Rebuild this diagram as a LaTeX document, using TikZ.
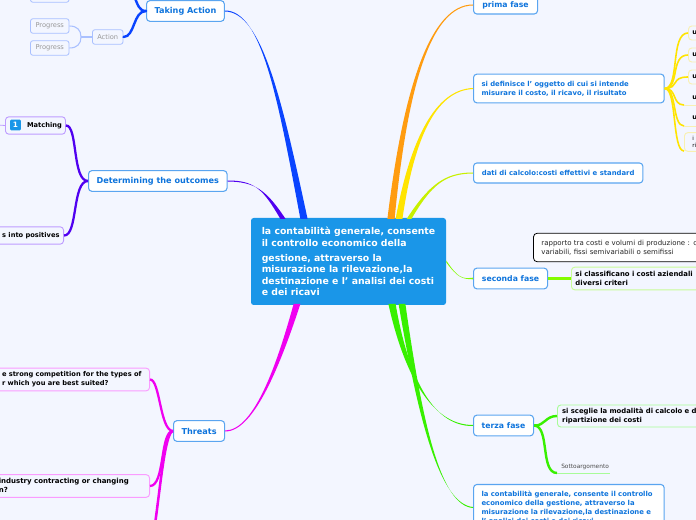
\documentclass[tikz,border=0pt]{standalone}
\usepackage{fontspec}
\setmainfont{DejaVu Sans}
\usetikzlibrary{calc}
\definecolor{pagebg}{HTML}{F3F6FF}
\definecolor{rootblue}{HTML}{1A96E8}
\definecolor{mainblue}{HTML}{0E74DC}
\definecolor{edgeblue}{HTML}{5AA5F0}
\definecolor{actionblue}{HTML}{0A44FF}
\definecolor{actionpale}{HTML}{A9C0FF}
\definecolor{outpurple}{HTML}{5000F0}
\definecolor{outpale}{HTML}{BE9CFF}
\definecolor{threatpink}{HTML}{F000F0}
\definecolor{threatpale}{HTML}{FA9CFF}
\definecolor{primaorange}{HTML}{FF9C10}
\definecolor{defyellow}{HTML}{FFE400}
\definecolor{defpale}{HTML}{F8F0B0}
\definecolor{datilime}{HTML}{C8F000}
\definecolor{secondalime}{HTML}{84FC00}
\definecolor{secondapale}{HTML}{C8FC98}
\definecolor{terzagreen}{HTML}{38F000}
\definecolor{terzapale}{HTML}{A8FC98}
\tikzset{
  root/.style={rectangle, rounded corners=2pt, fill=rootblue, text=white, font=\bfseries\fontsize{7}{8.6}\selectfont, minimum width=146.25pt, minimum height=65.25pt, align=left, inner xsep=7.5pt, inner ysep=0pt},
  topic/.style={rectangle, rounded corners=2.5pt, draw=edgeblue, line width=.8pt, fill=white, text=mainblue, font=\bfseries\fontsize{6.1}{7.6}\selectfont, align=left, anchor=west, inner xsep=6pt, inner ysep=0pt},
  fase/.style={topic, font=\bfseries\fontsize{5.8}{7.6}\selectfont},
  longtopic/.style={topic, font=\bfseries\fontsize{5.15}{6.6}\selectfont},
  sub/.style={rectangle, rounded corners=2.5pt, line width=.7pt, fill=pagebg, text=black, font=\bfseries\fontsize{5}{6.75}\selectfont, align=left, anchor=west, inner xsep=3pt, inner ysep=0pt},
  ghost/.style={rectangle, rounded corners=2pt, line width=.6pt, draw=actionpale, fill=pagebg, text=black!40, font=\fontsize{5}{6}\selectfont, anchor=west, inner sep=0pt},
}
% tapered branch: colour, thin width, thick width, start, first control, second control, end
\newcommand{\branch}[7]{
  \fill[#1] ($(#4)+(0,-#2)$) .. controls ($(#5)+(0,-#2*1.4)$) and ($(#6)+(-#3*.55,0)$) .. ($(#7)+(-#3,0)$) -- ($(#7)+(#3,0)$) .. controls ($(#6)+(#3*.55,0)$) and ($(#5)+(0,#2*1.4)$) .. ($(#4)+(0,#2)$) -- cycle;
}
\newcommand{\sidebranch}[7]{
  \fill[#1] ($(#4)+(0,-#2)$) .. controls (#5) and (#6) .. ($(#7)+(0,-#3)$) -- ($(#7)+(0,#3)$) .. controls (#6) and (#5) .. ($(#4)+(0,#2)$) -- cycle;
}
\begin{document}
\begin{tikzpicture}[x=.75pt, y=-.75pt]
\useasboundingbox (0,0) rectangle (696,520);
\clip (0,0) rectangle (696,520);
\fill[pagebg] (0,0) rectangle (696,520);

% Main topics
\node (root) [root] at (348.5,261.5) {la contabilità generale, consente\\il controllo economico della\\[2.6pt]gestione, attraverso la\\misurazione la rilevazione,la\\destinazione e l' analisi dei costi\\e dei ricavi};
\node (taking) [topic, minimum width=58pt, minimum height=15.5pt] at (146,11) {Taking Action};
\node (outcomes) [topic, minimum width=102pt, minimum height=15.5pt] at (88,181) {Determining the outcomes};
\node (threats) [topic, minimum width=37.5pt, minimum height=15.5pt] at (173,431) {Threats};
\node (prima) [fase, minimum width=48pt, minimum height=13.5pt] at (473,5) {prima fase};
\node (oggetto) [longtopic, text width=131pt, minimum height=21.5pt] at (473,88.5) {si definisce l' oggetto di cui si intende\\misurare il costo, il ricavo, il risultato};
\node (dati) [longtopic, minimum width=127pt, minimum height=15pt] at (473,173) {dati di calcolo:costi effettivi e standard};
\node (seconda) [fase, minimum width=55.5pt, minimum height=15.5pt] at (473,278.5) {seconda fase};
\node (terza) [fase, minimum width=45pt, minimum height=15.5pt] at (473,425.5) {terza fase};
\node (copia) [longtopic, text width=131pt, minimum height=34.5pt] at (473,507.5) {la contabilità generale, consente il controllo\\economico della gestione, attraverso la\\misurazione la rilevazione,la destinazione e\\l' analisi dei costi e dei ricavi};

% Left side
\node (action) [ghost, minimum width=23pt, minimum height=11pt, align=center] at (92,37) {Action};
\node (progressa) [ghost, minimum width=29pt, minimum height=11pt] at (30,-5) {};
\node (progressb) [ghost, minimum width=29pt, minimum height=11pt, align=center] at (30,26) {Progress};
\node (progressc) [ghost, minimum width=29pt, minimum height=11pt, align=center] at (30,48) {Progress};
\node (matching) [sub, draw=outpale, minimum width=45pt, minimum height=13pt, inner xsep=0pt] at (5,125.5) {\hspace*{13.5pt}Matching};
\node (badge) [rectangle, rounded corners=.8pt, fill=rootblue, text=white, font=\bfseries\fontsize{5.5}{6}\selectfont, minimum size=8pt, inner sep=0pt] at (15.5,125) {1};
\node (positives) [sub, draw=outpale, minimum height=13pt, anchor=east, inner xsep=3pt] at (64,235.5) {\hspace*{12pt}s into positives};
\node (competition) [sub, draw=threatpale, anchor=east, minimum height=17pt, inner xsep=0pt] at (150,379.5) {\raisebox{-1pt}{\begin{tabular}{@{\hspace{10pt}}l@{\hspace{6pt}}}e strong competition for the types of\\r which you are best suited?\end{tabular}}};
\node (contracting) [sub, draw=threatpale, anchor=east, minimum height=17pt, inner xsep=0pt, font=\bfseries\fontsize{5.25}{6.75}\selectfont] at (150,486) {\raisebox{-.5pt}{\begin{tabular}{@{\hspace{10pt}}l@{\hspace{15.5pt}}}industry contracting or changing\\n?\end{tabular}}};
\coordinate (threatsoff) at (155,524);
\coordinate (actionoff) at (134,-4);
\coordinate (matchingoff) at (-2,125);

% Right side
\node (ua) [sub, draw=defpale, text width=30pt, minimum height=10.5pt] at (688,33) {u};
\node (ub) [sub, draw=defpale, text width=30pt, minimum height=10.5pt] at (688,55) {u};
\node (uc) [sub, draw=defpale, text width=30pt, minimum height=10.5pt] at (688,77) {u};
\node (ud) [font=\bfseries\fontsize{5}{7}\selectfont, anchor=west, inner sep=0pt] at (692,98) {u};
\node (ue) [font=\bfseries\fontsize{5}{7}\selectfont, anchor=west, inner sep=0pt] at (692,118) {u};
\node (uf) [sub, draw=defpale, text width=30pt, minimum height=14pt, font=\fontsize{4.2}{5.4}\selectfont, inner xsep=6pt] at (684,142) {i c\\ri};
\coordinate (udline) at (684,105);
\coordinate (ueline) at (684,126);
\coordinate (ufline) at (684,151);
\node (rapporto) [rectangle, rounded corners=3pt, draw=black, line width=.6pt, fill=white, font=\fontsize{5.25}{6.5}\selectfont, anchor=west, align=left, text width=140pt, minimum height=21.5pt, inner xsep=6pt, inner ysep=0pt, text=black!85] at (533,247.5) {rapporto tra costi e volumi di produzione : c\\variabili, fissi semivariabili o semifissi};
\node (classificano) [sub, draw=secondapale, minimum height=17pt, text width=120pt, font=\bfseries\fontsize{5.2}{6.75}\selectfont] at (571,278.5) {si classificano i costi aziendali\\diversi criteri};
\node (sceglie) [sub, draw=terzapale, minimum height=16.5pt, text width=120pt, inner xsep=3.5pt, font=\bfseries\fontsize{5.15}{6.75}\selectfont] at (557,416) {si sceglie la modalità di calcolo e d\\ripartizione dei costi};
\node (sotto) [font=\fontsize{4.4}{5}\selectfont, text=black!70, anchor=west, inner sep=0pt] at (561,467) {Sottoargomento};
\coordinate (sottoline) at (557,473);

% Connections
\branch{actionblue}{.5}{3.6}{taking.east}{262,11}{280,100}{304,219}
\branch{outpurple}{.5}{2.6}{outcomes.east}{255,181}{265,190}{283,219}
\branch{threatpink}{.5}{3.4}{threats.east}{255,431}{280,360}{297,304}
\branch{primaorange}{.5}{3.6}{prima.west}{430,5}{405,90}{391,219}
\branch{defyellow}{.5}{3.4}{oggetto.west}{435,90}{412,140}{399,219}
\branch{datilime}{.5}{2.4}{dati.west}{445,173}{430,185}{409,219}
\sidebranch{secondalime}{.8}{1}{seconda.west}{462,279}{458,278}{root.east}
\branch{terzagreen}{.5}{3.6}{terza.west}{430,426}{405,370}{392,304}
\branch{terzagreen}{.5}{3.4}{copia.west}{440,505}{420,420}{402,304}

\draw[actionblue, line width=1.8pt, line cap=round] (taking.west) .. controls (139,11) and (138,5) .. (actionoff);
\draw[actionblue, line width=1.8pt, line cap=round] (taking.west) .. controls (133,11) and (135,37) .. (action.east);
\draw[actionpale, line width=1pt] (action.west) -- (81,37);
\draw[actionpale, line width=.8pt] (81,37) .. controls (81,30) and (77,26) .. (progressb.east);
\draw[actionpale, line width=.8pt] (81,37) .. controls (81,44) and (77,48) .. (progressc.east);
\draw[outpurple, line width=1.7pt] (outcomes.west) .. controls (72,181) and (78,125) .. (matching.east);
\draw[outpurple, line width=1.7pt] (outcomes.west) .. controls (72,181) and (78,236) .. (positives.east);
\draw[outpale, line width=.6pt] (matching.west) -- (matchingoff);
\draw[threatpink, line width=1.7pt] (threats.west) .. controls (160,431) and (160,379) .. (competition.east);
\draw[threatpink, line width=1.7pt] (threats.west) .. controls (160,431) and (165,486) .. (contracting.east);
\draw[threatpink, line width=1.9pt] (threats.west) .. controls (165,431) and (160,490) .. (threatsoff);
\foreach \target/\ty in {ua/33,ub/55,uc/77} {
  \draw[defyellow, line width=1.2pt] (oggetto.east) .. controls (680,88) and (670,\ty) .. (\target.west);
}
\foreach \target/\ty in {udline/105,ueline/126,ufline/151} {
  \draw[defyellow, line width=1.2pt] (oggetto.east) .. controls (677,88) and (672,\ty) .. (\target);
}
\draw[defpale, line width=.7pt] (udline) -- (696,105);
\draw[defpale, line width=.7pt] (ueline) -- (696,126);
\draw[secondalime, line width=2.2pt] (seconda.east) -- (classificano.west);
\draw[terzagreen, line width=1.8pt] (terza.east) .. controls (545,426) and (545,416) .. (sceglie.west);
\draw[terzagreen, line width=1.8pt] (terza.east) .. controls (550,426) and (540,473) .. (sottoline);
\draw[terzapale, line width=.7pt] (sottoline) -- (610,473);
\end{tikzpicture}
\end{document}
